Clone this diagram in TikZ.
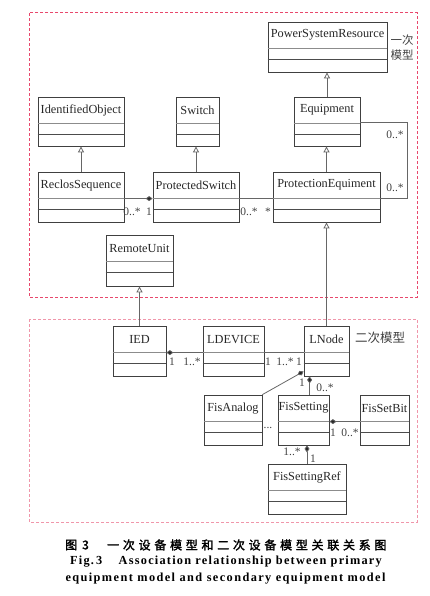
\documentclass[tikz,border=0pt]{standalone}
\usepackage{fontspec}
\setmainfont{Liberation Serif}
\newfontfamily\cjk{Noto Sans CJK SC}
\newfontfamily\cjkb[FakeBold=2]{Noto Sans CJK SC}
\usetikzlibrary{arrows.meta,calc,fit}
\definecolor{areared}{RGB}{232,72,108}
\definecolor{areapink}{RGB}{240,150,170}
\tikzset{
  cls/.style={draw=black!75, line width=0.8pt, inner sep=0pt},
  clstext/.style={font=\fontsize{12.3}{14}\selectfont, inner sep=0pt, text=black!85},
  sepa/.style={draw=black!45, line width=0.8pt},
  sepb/.style={draw=black!70, line width=0.8pt},
  conn/.style={draw=black!60, line width=0.8pt},
  gen/.style={conn, -{Triangle[open,length=6pt,width=6pt,fill=white]}},
  comp/.style={conn, -{Diamond[length=7pt,width=5pt,fill=black!85]}},
  mult/.style={font=\fontsize{11.5}{13}\selectfont, inner sep=0pt, text=black!75},
  toparea/.style={draw=areared, line width=1pt, dash pattern=on 3pt off 2pt},
  botarea/.style={draw=areapink, line width=0.8pt, dash pattern=on 3pt off 2pt},
  cjklab/.style={font=\cjk\fontsize{11.5}{13}\selectfont, inner sep=0pt, text=black!75},
  capzh/.style={anchor=west, inner sep=0pt, font=\cjkb\fontsize{12}{14}\selectfont},
  capen/.style={inner sep=0pt, font=\bfseries\fontsize{12.3}{14}\selectfont\addfontfeature{LetterSpace=10}},
}
\newcommand\umlclass[6]{%
  \node[cls, fit={(#2,#3)(#4,#5)}] (#1) {};
  \node[clstext] (#1-t) at ($(#1.north)+(0,13.5)$) {#6};
  \draw[sepa] ($(#1.north west)+(0,27)$) -- ($(#1.north east)+(0,27)$);
  \draw[sepb] ($(#1.north west)+(0,38)$) -- ($(#1.north east)+(0,38)$);
}
\begin{document}
\begin{tikzpicture}[x=1pt,y=-1pt]
\useasboundingbox (0,0) rectangle (429,596);
% regions
\draw[toparea] (29,13) rectangle (417,297);
\draw[botarea] (29,319) rectangle (417,522);
% classes (primary)
\umlclass{psr}{268}{22}{387}{72}{PowerSystemResource}
\umlclass{io}{38}{97}{124}{146}{IdentifiedObject}
\umlclass{sw}{176}{97}{219}{146}{Switch}
\umlclass{eq}{294}{97}{360}{146}{Equipment}
\umlclass{rs}{38}{172}{124}{222}{ReclosSequence}
\umlclass{ps}{153}{172}{239}{222}{ProtectedSwitch}
\umlclass{pe}{273}{172}{380}{222}{ProtectionEquiment}
\umlclass{ru}{106}{235}{173}{286}{RemoteUnit}
% classes (secondary)
\umlclass{ied}{113}{326}{166}{376}{IED}
\umlclass{ld}{203}{326}{264}{376}{LDEVICE}
\umlclass{ln}{304}{326}{349}{376}{LNode}
\umlclass{fa}{204}{395}{262}{445}{FisAnalog}
\umlclass{fs}{278}{395}{329}{445}{FisSetting}
\umlclass{fsb}{360}{395}{409}{445}{FisSetBit}
\umlclass{fsr}{268}{464}{346}{514}{FisSettingRef}
% region labels
\node[cjklab] (l1a) at (402,40) {一次};
\node[cjklab] (l1b) at (402,55) {模型};
\node[cjklab, font=\cjk\fontsize{12.5}{14}\selectfont] (l2) at (380,338) {二次模型};
% generalizations
\draw[gen] (eq.north) -- (eq.north |- psr.south);
\draw[gen] (rs.north) -- (rs.north |- io.south);
\draw[gen] (ps.north) -- (ps.north |- sw.south);
\draw[gen] (pe.north) -- (pe.north |- eq.south);
\draw[gen] (ln.north) -- (ln.north |- pe.south);
\draw[gen] (ied.north) -- (ied.north |- ru.south);
% equipment - protection equipment association
\coordinate (eqr) at ($(eq.north east)+(0,26)$);
\coordinate (per) at ($(pe.north east)+(0,27)$);
\coordinate (bend) at (407,0);
\draw[conn] (eqr) -- (eqr -| bend) -- (per -| bend) -- (per);
% associations primary
\coordinate (rsr) at ($(rs.north east)+(0,27)$);
\coordinate (psl) at ($(ps.north west)+(0,27)$);
\coordinate (psr2) at ($(ps.north east)+(0,27)$);
\coordinate (pel) at ($(pe.north west)+(0,27)$);
\draw[comp] (rsr) -- (psl);
\draw[conn] (psr2) -- (pel);
% associations secondary
\coordinate (iedr) at ($(ied.north east)+(0,27)$);
\coordinate (ldl) at ($(ld.north west)+(0,27)$);
\coordinate (ldr) at ($(ld.north east)+(0,27)$);
\coordinate (lnl) at ($(ln.north west)+(0,27)$);
\draw[comp] (ldl) -- (iedr);
\draw[conn] (ldr) -- (lnl);
\coordinate (lnfa) at ($(ln.south west)+(0,-5)$);
\draw[comp] (fa.north east) -- (lnfa);
\coordinate (lnfs) at ($(ln.south west)+(6,0)$);
\draw[comp] (lnfs |- fs.north) -- (lnfs);
\coordinate (fsr2) at ($(fs.north east)+(0,27)$);
\coordinate (fsbl) at ($(fsb.north west)+(0,27)$);
\draw[comp] (fsbl) -- (fsr2);
\draw[comp] (fsr.north) -- (fsr.north |- fs.south);
% multiplicities
\node[mult] (m1) at (395,135) {0..*};
\node[mult] (m2) at (395,188) {0..*};
\node[mult] (m3) at (132,212) {0..*};
\node[mult] (m4) at (149,212) {1};
\node[mult] (m5) at (249,212) {0..*};
\node[mult] (m6) at (268,212) {*};
\node[mult] (m7) at (172,362) {1};
\node[mult] (m8) at (192,362) {1..*};
\node[mult] (m9) at (268,362) {1};
\node[mult] (m10) at (285,362) {1..*};
\node[mult] (m11) at (299,362) {1};
\node[mult] (m12) at (302,383) {1};
\node[mult] (m13) at (325,388) {0..*};
\node[mult] (m14) at (333,433) {1};
\node[mult] (m15) at (350,433) {0..*};
\node[mult] (m16) at (292,452) {1..*};
\node[mult] (m17) at (313,459) {1};
\node[mult] (dots) at (268,428) {...};
% caption
\node[capzh] (c0) at (65,545) {图\hspace{5pt}3};
\node[capzh, font=\cjkb\fontsize{12}{14}\selectfont\addfontfeature{LetterSpace=31}] (c1) at (107,545) {一次设备模型和二次设备模型关联关系图};
\node[capen, anchor=west] (c2) at (70,562) {Fig.\,3};
\node[capen, anchor=east] (c3) at (382,562) {Association relationship between primary};
\node[capen, anchor=center, font=\bfseries\fontsize{12.3}{14}\selectfont\addfontfeature{LetterSpace=11.5}] (c4) at (225.5,579) {equipment model and secondary equipment model};
\end{tikzpicture}
\end{document}
